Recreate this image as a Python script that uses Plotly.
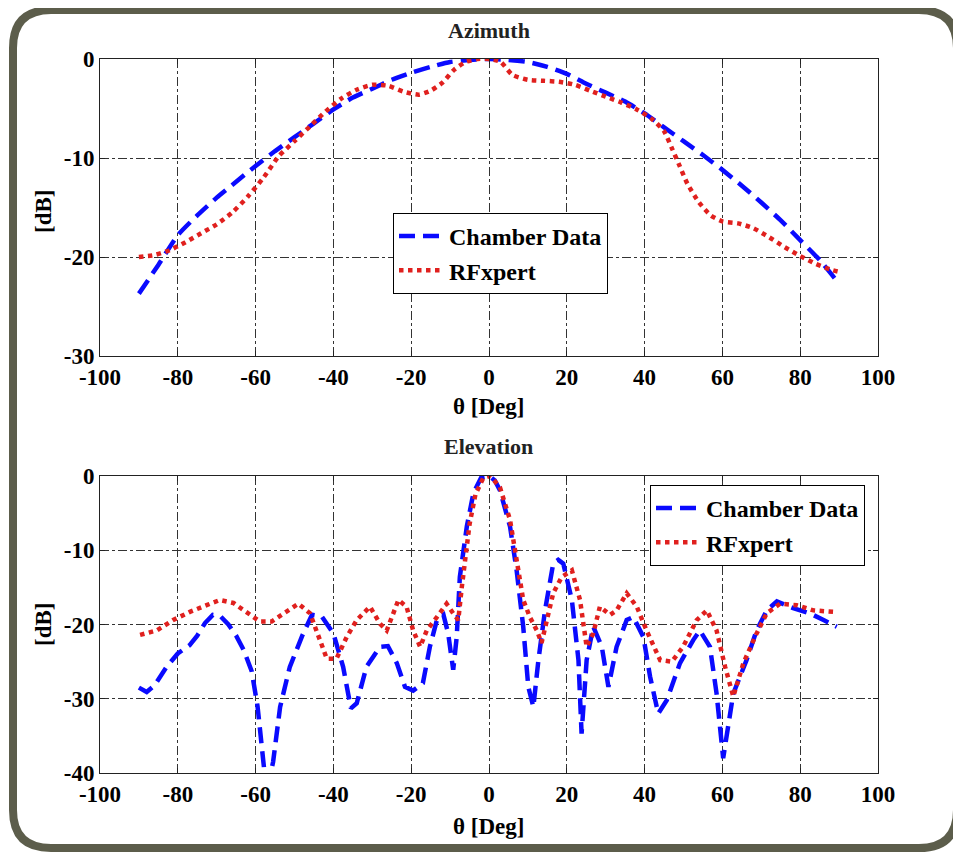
import plotly.graph_objects as go

# Azimuth cut
az_theta_chamber = [-90, -85, -80, -75, -70, -65, -60, -55, -50, -45, -40, -35, -30, -25, -20,
                    -15, -10, -5, 0, 5, 10, 15, 20, 25, 30, 35, 40, 45, 50, 55, 60, 65, 70, 75,
                    80, 85, 90]
az_chamber = [-23.7, -20.8, -17.8, -15.8, -14.0, -12.4, -10.8, -9.3, -7.9, -6.5, -5.1, -3.9,
              -3.0, -2.1, -1.4, -0.8, -0.3, -0.1, 0.0, -0.1, -0.3, -0.8, -1.5, -2.5, -3.4,
              -4.3, -5.5, -6.9, -8.3, -9.7, -11.2, -12.8, -14.5, -16.3, -18.3, -20.3, -22.7]

az_theta_rfx = [-90, -86, -82, -78, -74, -70, -66, -62, -58, -54, -50, -46, -42, -38, -34, -30,
                -26, -22, -18, -15, -12, -9, -6, -3, 0, 3, 6, 10, 14, 18, 22, 26, 30, 34, 38,
                42, 45, 47, 49, 51, 54, 57, 60, 64, 68, 72, 76, 80, 84, 88, 90]
az_rfx = [-20.0, -19.8, -19.3, -18.5, -17.6, -16.7, -15.5, -13.9, -12.0, -9.8, -8.3, -6.8,
          -5.3, -4.0, -3.1, -2.6, -2.7, -3.3, -3.6, -3.2, -2.4, -1.1, -0.3, 0.0, 0.0, -0.3,
          -1.6, -2.1, -2.2, -2.3, -2.6, -3.2, -3.8, -4.4, -5.1, -6.1, -7.3, -9.0, -10.8,
          -12.6, -14.5, -15.8, -16.4, -16.6, -17.1, -18.0, -19.0, -19.9, -20.7, -21.3, -21.5]

# Elevation cut
el_theta_chamber = [-90, -88, -86, -83, -80, -77, -75, -73, -71, -69, -67, -65, -63, -61, -59.5,
                    -58.5, -57.5, -56.5, -55.5, -53.7, -51.2, -48, -45.5, -43, -40, -37.5,
                    -35.5, -34, -31.5, -28, -26, -23.7, -21.6, -19.5, -17, -15.2, -13.4, -11.7,
                    -10.5, -9.2, -8.3, -7.5, -5.7, -4, -2, 0, 1.5, 2.8, 5.4, 7.1, 8.8, 10.1,
                    11.4, 12.7, 14.4, 16.5, 17.8, 19.1, 21.3, 23, 23.8, 25.1, 26.8, 29, 30.7,
                    32.8, 35.4, 37.1, 39.7, 41.4, 43.5, 45.7, 49.1, 52.5, 54.2, 56.8, 58.5,
                    60.2, 61.5, 62.8, 66.2, 68.8, 71.4, 74, 78.2, 82.5, 86, 89.4]
el_chamber = [-28.5, -29.1, -28.2, -25.8, -23.9, -22.8, -21.5, -19.8, -18.7, -18.9, -20.0,
              -21.5, -23.5, -26.3, -31.0, -36.0, -41.0, -41.0, -38.5, -31.1, -25.7, -21.5,
              -18.7, -18.9, -21.2, -25.7, -31.3, -30.6, -25.7, -23.0, -22.9, -25.2, -28.4,
              -28.9, -27.9, -23.0, -19.4, -18.7, -21.2, -26.1, -21.7, -13.6, -6.8, -2.3,
              -0.2, 0.0, -0.6, -1.9, -6.8, -12.7, -20.3, -28.4, -31.1, -24.8, -18.1, -11.8,
              -11.3, -11.8, -16.7, -24.8, -34.7, -24.8, -20.3, -23.0, -28.4, -23.0, -19.4,
              -19.0, -21.7, -27.0, -32.0, -30.2, -25.2, -22.1, -20.8, -23.0, -29.3, -38.0,
              -33.8, -29.3, -24.8, -20.8, -18.1, -16.9, -17.8, -18.5, -19.4, -20.3]

el_theta_rfx = [-89.7, -85.4, -81.2, -76.9, -72.6, -69.2, -65.7, -62.3, -58.9, -55.9, -52.9,
                -49, -46, -43.4, -41.7, -39.2, -36.6, -34, -30.6, -28, -26.3, -24.6, -23.3,
                -21.2, -19.5, -17.7, -16, -13.4, -10.9, -9.2, -7.9, -7, -6, -5, -3.5, -1.5,
                0.3, 2.8, 5.4, 7.1, 8.8, 10.5, 12.3, 13.5, 14.8, 16.5, 18.7, 21.3, 23.4, 25.1,
                26.8, 28.5, 31.1, 32.8, 35.4, 38, 40.5, 44, 47, 49.9, 53.4, 56, 58.5, 60.7,
                62.8, 65.4, 68.8, 71.4, 74.8, 79.1, 83.4, 88.6]
el_rfx = [-21.4, -20.8, -19.4, -18.3, -17.4, -16.7, -17.1, -18.3, -19.6, -19.6, -18.5, -17.2,
          -18.5, -22.1, -24.6, -24.6, -21.7, -19.4, -17.6, -19.9, -20.8, -18.5, -16.7, -17.6,
          -20.8, -23.0, -20.8, -19.0, -17.2, -18.5, -19.4, -15.0, -11.0, -6.5, -2.5, -0.3,
          0.0, -1.5, -5.9, -11.3, -16.7, -19.0, -20.8, -22.5, -19.4, -15.8, -13.6, -12.7,
          -16.7, -23.0, -21.2, -17.6, -18.7, -18.1, -15.8, -17.6, -20.8, -24.8, -25.0, -23.0,
          -19.4, -18.1, -20.8, -25.7, -29.7, -25.2, -21.2, -18.5, -17.2, -17.4, -18.1, -18.3]

x_ticks = [-100, -80, -60, -40, -20, 0, 20, 40, 60, 80, 100]
x_labels = ["-100", "-80", "-60", "-40", "-20", "0", "20", "40", "60", "80", "100"]
az_y_ticks = [-30, -20, -10, 0]
az_y_labels = ["-30", "-20", "-10", "0"]
el_y_ticks = [-40, -30, -20, -10, 0]
el_y_labels = ["-40", "-30", "-20", "-10", "0"]

# the page body keeps its default 8px margin, so the figure is shifted by that much
PAGE_OFF = 8
W, H = 961 - PAGE_OFF, 854 - PAGE_OFF
SERIF = "Liberation Serif, Times New Roman, serif"
BLUE = "#0a0aff"
RED = "#e0201e"


def px(x):
    return (x - PAGE_OFF) / W


def py(y):
    return 1 - (y - PAGE_OFF) / H


fig = go.Figure()

chamber_line = dict(color=BLUE, width=4.5, dash="16px,8px")
rfx_line = dict(color=RED, width=4.5, dash="4.5px,4.5px")

fig.add_trace(go.Scatter(x=az_theta_chamber, y=az_chamber, name="Chamber Data", mode="lines",
                         line=dict(shape="spline", smoothing=0.6, **chamber_line),
                         xaxis="x", yaxis="y", legend="legend"))
fig.add_trace(go.Scatter(x=az_theta_rfx, y=az_rfx, name="RFxpert", mode="lines",
                         line=dict(shape="spline", smoothing=0.6, **rfx_line),
                         xaxis="x", yaxis="y", legend="legend"))
fig.add_trace(go.Scatter(x=el_theta_chamber, y=el_chamber, name="Chamber Data", mode="lines",
                         line=chamber_line, xaxis="x2", yaxis="y2", legend="legend2"))
fig.add_trace(go.Scatter(x=el_theta_rfx, y=el_rfx, name="RFxpert", mode="lines",
                         line=rfx_line, xaxis="x2", yaxis="y2", legend="legend2"))

tick_font = dict(family=SERIF, size=23, color="black", weight="bold")
axis_common = dict(showline=True, linecolor="#222", linewidth=1, mirror="ticks",
                   ticks="inside", ticklen=5, tickcolor="#222", automargin=False,
                   showgrid=True, gridcolor="#333", gridwidth=1, griddash="dashdot",
                   zeroline=False, tickfont=tick_font)

x_dom = [px(100), px(878)]
legend_font = dict(family=SERIF, size=24, color="black", weight="bold")
fig.update_layout(
    width=W, height=H,
    margin=dict(l=0, r=0, t=0, b=0, autoexpand=False),
    paper_bgcolor="white", plot_bgcolor="white",
    xaxis=dict(domain=x_dom, anchor="y", range=[-100, 100],
               tickvals=x_ticks, ticktext=x_labels, **axis_common),
    yaxis=dict(domain=[py(356), py(59)], anchor="x", range=[-30, 0],
               tickvals=az_y_ticks, ticktext=az_y_labels, **axis_common),
    xaxis2=dict(domain=x_dom, anchor="y2", range=[-100, 100],
                tickvals=x_ticks, ticktext=x_labels, **axis_common),
    yaxis2=dict(domain=[py(773), py(476)], anchor="x2", range=[-40, 0],
                tickvals=el_y_ticks, ticktext=el_y_labels, **axis_common),
    legend=dict(x=px(393), y=py(213), xanchor="left", yanchor="top", itemwidth=45,
                bgcolor="white", bordercolor="black", borderwidth=1, font=legend_font),
    legend2=dict(x=px(650), y=py(485), xanchor="left", yanchor="top", itemwidth=45,
                 bgcolor="white", bordercolor="black", borderwidth=1, font=legend_font),
)

label_font = dict(family=SERIF, size=23, color="black", weight="bold")
title_font = dict(family=SERIF, size=22, color="#222", weight="bold")
annotations = [
    dict(text="Azimuth", x=px(489), y=py(30), font=title_font),
    dict(text="θ [Deg]", x=px(489), y=py(407), font=label_font),
    dict(text="Elevation", x=px(489), y=py(446), font=title_font),
    dict(text="θ [Deg]", x=px(489), y=py(826), font=label_font),
    dict(text="[dB]", x=px(43), y=py(212), textangle=-90, font=label_font),
    dict(text="[dB]", x=px(43), y=py(625), textangle=-90, font=label_font),
]
for a in annotations:
    fig.add_annotation(xref="paper", yref="paper", showarrow=False,
                       xanchor="center", yanchor="middle", **a)

# rounded frame around the whole figure
x0, x1, y0, y1, r = 13, 957, 10, 848, 38
path = (f"M {px(x0 + r)},{py(y0)} L {px(x1 - r)},{py(y0)} "
        f"Q {px(x1)},{py(y0)} {px(x1)},{py(y0 + r)} L {px(x1)},{py(y1 - r)} "
        f"Q {px(x1)},{py(y1)} {px(x1 - r)},{py(y1)} L {px(x0 + r)},{py(y1)} "
        f"Q {px(x0)},{py(y1)} {px(x0)},{py(y1 - r)} L {px(x0)},{py(y0 + r)} "
        f"Q {px(x0)},{py(y0)} {px(x0 + r)},{py(y0)} Z")
fig.add_shape(type="path", path=path, xref="paper", yref="paper",
              line=dict(color="#5c5d4b", width=8), layer="above")

fig.write_html("out.html")
